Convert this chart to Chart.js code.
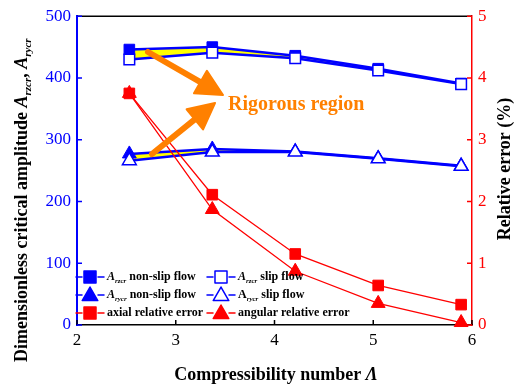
<!DOCTYPE html>
<html>
<head>
<meta charset="utf-8">
<script src="https://cdn.jsdelivr.net/npm/chart.js@4.4.1/dist/chart.umd.min.js"></script>
<style>
  body { margin: 0; background: #fff; }
</style>
</head>
<body>
<canvas id="chart" width="521" height="386"></canvas>
<script>
// compressibility number and the critical amplitudes / errors
const lambda = [2.53, 3.37, 4.21, 5.05, 5.89];
const rzNoSlip = [446, 450, 436, 415, 391];
const rzSlip = [430, 441, 432, 412, 390];
const ryNoSlip = [277, 285, 281, 270, 258];
const rySlip = [266, 280, 280, 269, 257];
const axialErr = [3.75, 2.11, 1.15, 0.64, 0.33];
const angularErr = [3.75, 1.87, 0.87, 0.35, 0.04];

const xTicks = [2, 3, 4, 5, 6];
const leftTicks = [0, 100, 200, 300, 400, 500];
const rightTicks = [0, 1, 2, 3, 4, 5];

const SERIF = '"Liberation Serif", "Times New Roman", serif';
const BLUE = "#0000ff";
const RED = "#ff0000";
const YELLOW = "#ffff00";
const ORANGE = "#ff8000";

function pairs(ys) {
  return lambda.map((x, i) => ({ x: x, y: ys[i] }));
}

function setTicks(list) {
  return (scale) => {
    scale.ticks = list.map((v) => ({ value: v }));
  };
}

// text runs: [text, kind]  kind = b | bi | sub
function runFont(kind, size) {
  if (kind === "bi") return "italic bold " + size + "px " + SERIF;
  if (kind === "sub") return "italic bold " + Math.round(size * 0.62) + "px " + SERIF;
  return "bold " + size + "px " + SERIF;
}

function runsWidth(ctx, runs, size) {
  let w = 0;
  runs.forEach(([t, kind]) => {
    ctx.font = runFont(kind, size);
    w += ctx.measureText(t).width;
  });
  return w;
}

function drawRuns(ctx, runs, x, y, size) {
  runs.forEach(([t, kind]) => {
    ctx.font = runFont(kind, size);
    const dy = kind === "sub" ? size * 0.32 : 0;
    ctx.fillText(t, x, y + dy);
    x += ctx.measureText(t).width;
  });
}

function arrow(ctx, x0, y0, x1, y1) {
  const a = Math.atan2(y1 - y0, x1 - x0);
  const len = 26, half = 13;
  const bx = x1 - len * Math.cos(a), by = y1 - len * Math.sin(a);
  ctx.strokeStyle = ORANGE;
  ctx.fillStyle = ORANGE;
  ctx.lineWidth = 6;
  ctx.lineCap = "round";
  ctx.beginPath();
  ctx.moveTo(x0, y0);
  ctx.lineTo(bx, by);
  ctx.stroke();
  ctx.lineJoin = "round";
  ctx.lineWidth = 2;
  ctx.beginPath();
  ctx.moveTo(x1, y1);
  ctx.lineTo(bx + half * Math.sin(a), by - half * Math.cos(a));
  ctx.lineTo(bx - half * Math.sin(a), by + half * Math.cos(a));
  ctx.closePath();
  ctx.fill();
  ctx.stroke();
}

const legendRows = [
  [
    { color: BLUE, fill: BLUE, style: "rect", runs: [["A", "bi"], ["rzcr", "sub"], [" non-slip flow", "b"]] },
    { color: BLUE, fill: "#fff", style: "rect", runs: [["A", "bi"], ["rzcr", "sub"], [" slip flow", "b"]] },
  ],
  [
    { color: BLUE, fill: BLUE, style: "triangle", runs: [["A", "bi"], ["rycr", "sub"], [" non-slip flow", "b"]] },
    { color: BLUE, fill: "#fff", style: "triangle", runs: [["A", "b"], ["rycr", "sub"], [" slip flow", "b"]] },
  ],
  [
    { color: RED, fill: RED, style: "rect", runs: [["axial relative error", "b"]] },
    { color: RED, fill: RED, style: "triangle", runs: [["angular relative error", "b"]] },
  ],
];

const decor = {
  id: "decor",
  afterDatasetsDraw(chart) {
    const ctx = chart.ctx;
    const a = chart.chartArea;
    const sx = chart.scales.x, sy = chart.scales.y, sr = chart.scales.y1;
    ctx.save();

    // frame top and inward tick marks
    ctx.lineWidth = 1.5;
    ctx.strokeStyle = "#000";
    ctx.beginPath();
    ctx.moveTo(a.left, a.top);
    ctx.lineTo(a.right, a.top);
    xTicks.forEach((v) => {
      const px = sx.getPixelForValue(v);
      ctx.moveTo(px, a.bottom);
      ctx.lineTo(px, a.bottom - 5);
    });
    ctx.stroke();
    ctx.strokeStyle = BLUE;
    ctx.beginPath();
    leftTicks.forEach((v) => {
      const py = sy.getPixelForValue(v);
      ctx.moveTo(a.left, py);
      ctx.lineTo(a.left + 5, py);
    });
    ctx.stroke();
    ctx.strokeStyle = RED;
    ctx.beginPath();
    rightTicks.forEach((v) => {
      const py = sr.getPixelForValue(v);
      ctx.moveTo(a.right, py);
      ctx.lineTo(a.right - 5, py);
    });
    ctx.stroke();

    // annotation
    arrow(ctx, 148, 52, 223, 95);
    arrow(ctx, 152, 154, 215, 103);
    ctx.fillStyle = ORANGE;
    ctx.font = "bold 20px " + SERIF;
    ctx.textBaseline = "middle";
    ctx.textAlign = "left";
    ctx.fillText("Rigorous region", 228, 105);

    // legend
    const cols = [76, 207];
    const rowsY = [277, 295, 313];
    legendRows.forEach((row, r) => {
      row.forEach((item, c) => {
        const x = cols[c], y = rowsY[r];
        ctx.strokeStyle = item.color;
        ctx.lineWidth = 1.5;
        ctx.beginPath();
        ctx.moveTo(x, y);
        ctx.lineTo(x + 6, y);
        ctx.moveTo(x + 22, y);
        ctx.lineTo(x + 28, y);
        ctx.stroke();
        ctx.fillStyle = item.fill;
        ctx.lineWidth = 1.5;
        Chart.helpers.drawPoint(ctx, {
          pointStyle: item.style,
          radius: item.style === "rect" ? 8.5 : 9,
          borderWidth: 1.5,
          rotation: 0,
        }, x + 14, item.style === "rect" ? y : y + 1);
        ctx.fillStyle = "#000";
        drawRuns(ctx, item.runs, x + 31, y, 12);
      });
    });

    // axis titles
    ctx.fillStyle = "#000";
    const xt = [["Compressibility number ", "b"], ["\u039B", "bi"]];
    drawRuns(ctx, xt, 276 - runsWidth(ctx, xt, 18) / 2, 375, 18);

    ctx.save();
    ctx.translate(22, 362);
    ctx.rotate(-Math.PI / 2);
    drawRuns(ctx, [
      ["Dimensionless critical amplitude ", "b"],
      ["A", "bi"], ["rzcr", "sub"], [", ", "b"],
      ["A", "bi"], ["rycr", "sub"],
    ], 0, 0, 18);
    ctx.restore();

    ctx.save();
    ctx.translate(505, 169);
    ctx.rotate(-Math.PI / 2);
    ctx.textAlign = "center";
    ctx.font = "bold 18px " + SERIF;
    ctx.fillText("Relative error (%)", 0, 0);
    ctx.restore();

    ctx.restore();
  },
};

const tickFont = { family: SERIF, size: 17 };

const config = {
  type: "line",
  data: {
    datasets: [
      {
        label: "axial relative error",
        data: pairs(axialErr),
        yAxisID: "y1",
        borderColor: RED,
        backgroundColor: RED,
        borderWidth: 1.3,
        pointStyle: "rect",
        pointRadius: 7.5,
        pointBorderWidth: 1,
        clip: false,
        order: 0,
      },
      {
        label: "angular relative error",
        data: pairs(angularErr),
        yAxisID: "y1",
        borderColor: RED,
        backgroundColor: RED,
        borderWidth: 1.3,
        pointStyle: "triangle",
        pointRadius: 8,
        pointBorderWidth: 1,
        clip: false,
        order: 1,
      },
      {
        label: "Arzcr non-slip flow",
        data: pairs(rzNoSlip),
        yAxisID: "y",
        borderColor: BLUE,
        backgroundColor: YELLOW,
        borderWidth: 2.5,
        fill: 3,
        pointStyle: "rect",
        pointRadius: 7.5,
        pointBackgroundColor: BLUE,
        pointBorderColor: BLUE,
        pointBorderWidth: 1,
        clip: false,
        order: 4,
      },
      {
        label: "Arzcr slip flow",
        data: pairs(rzSlip),
        yAxisID: "y",
        borderColor: BLUE,
        borderWidth: 2.5,
        fill: false,
        pointStyle: "rect",
        pointRadius: 7.5,
        pointBackgroundColor: "#fff",
        pointBorderColor: BLUE,
        pointBorderWidth: 1.5,
        clip: false,
        order: 2,
      },
      {
        label: "Arycr non-slip flow",
        data: pairs(ryNoSlip),
        yAxisID: "y",
        borderColor: BLUE,
        backgroundColor: YELLOW,
        borderWidth: 2.5,
        fill: 5,
        pointStyle: "triangle",
        pointRadius: 8,
        pointBackgroundColor: BLUE,
        pointBorderColor: BLUE,
        pointBorderWidth: 1,
        clip: false,
        order: 5,
      },
      {
        label: "Arycr slip flow",
        data: pairs(rySlip),
        yAxisID: "y",
        borderColor: BLUE,
        borderWidth: 2.5,
        fill: false,
        pointStyle: "triangle",
        pointRadius: 8,
        pointBackgroundColor: "#fff",
        pointBorderColor: BLUE,
        pointBorderWidth: 1.5,
        clip: false,
        order: 3,
      },
    ],
  },
  options: {
    responsive: false,
    animation: false,
    layout: { padding: { top: 13, left: 0, right: 0, bottom: 0 } },
    plugins: {
      legend: { display: false },
      tooltip: { enabled: false },
      filler: { drawTime: "beforeDatasetsDraw" },
    },
    scales: {
      x: {
        type: "linear",
        min: 2,
        max: 6,
        afterBuildTicks: setTicks(xTicks),
        afterFit: (s) => { s.height = 61; },
        grid: { display: false, drawTicks: false },
        border: { color: "#000", width: 1.5 },
        ticks: { color: "#000", font: tickFont, padding: 5 },
      },
      y: {
        position: "left",
        min: 0,
        max: 500,
        afterBuildTicks: setTicks(leftTicks),
        afterFit: (s) => { s.width = 77; },
        grid: { display: false, drawTicks: false },
        border: { color: BLUE, width: 2 },
        ticks: { color: BLUE, font: tickFont, padding: 6 },
      },
      y1: {
        position: "right",
        min: 0,
        max: 5,
        afterBuildTicks: setTicks(rightTicks),
        afterFit: (s) => { s.width = 49; },
        grid: { display: false, drawTicks: false },
        border: { color: RED, width: 1.5 },
        ticks: { color: RED, font: tickFont, padding: 6 },
      },
    },
  },
  plugins: [decor],
};

let myChart = new Chart(document.getElementById("chart"), config);
</script>
</body>
</html>
